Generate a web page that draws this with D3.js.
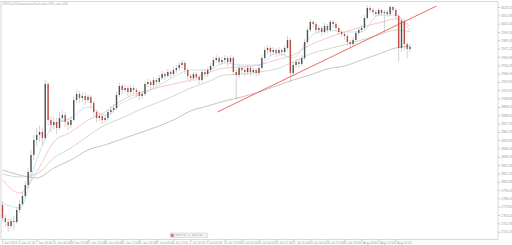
<!DOCTYPE html>
<html>
<head>
<meta charset="utf-8">
<script src="https://cdn.jsdelivr.net/npm/d3@7"></script>
<style>
  html, body { margin: 0; padding: 0; background: #fff; }
  svg { display: block; font-family: "DejaVu Sans", sans-serif; }
</style>
</head>
<body>
<svg width="512" height="245"></svg>
<script>
// chart title
const title = "[SPX500],H4  Standard and Poor's Index (SPX), cash (USD)";

// H4 candles, open = previous close
const firstOpen = 2775.8;
const closes = [
  2759.5, 2754.5, 2749.5, 2755.8, 2754.5, 2769.5, 2777, 2787, 2800.8, 2817,
  2838.3, 2857, 2863.3, 2867, 2859.5, 2927, 2882, 2875.8, 2879.5, 2872,
  2884.5, 2888.3, 2879.5, 2875.8, 2882, 2907, 2914.5, 2909.5, 2912, 2907,
  2910.8, 2903.3, 2892, 2884.5, 2887, 2882, 2884.5, 2892, 2894.5, 2897,
  2913.3, 2924.5, 2919.5, 2922, 2917, 2922, 2919.5, 2917, 2912, 2914.5,
  2927, 2929.5, 2925.8, 2932, 2929.5, 2934.5, 2939.5, 2937, 2942, 2939.5,
  2944.5, 2947, 2950.8, 2953.3, 2944.5, 2937, 2934.5, 2939.5, 2935.8, 2932,
  2942, 2939.5, 2944.5, 2949.5, 2957, 2959.5, 2954.5, 2957, 2959.5, 2954.5,
  2959.5, 2942, 2938.3, 2947, 2944.5, 2942, 2947, 2942, 2944.5, 2940.8,
  2947, 2959.5, 2969.5, 2972, 2967, 2969.5, 2965.8, 2969.5, 2967, 2972,
  2982, 2940.8, 2950.8, 2954.5, 2952, 2959.5, 2979.5, 2994.5, 3004.5, 3002,
  2994.5, 2997, 2992, 2999.5, 2994.5, 3004.5, 3002, 2997, 2992, 2989.5,
  2987, 2979.5, 2977, 2982, 2990.8, 2994.5, 2997, 3009.5, 3022, 3019.5,
  3017, 3014.5, 3019.5, 3015.8, 3017, 3014.5, 3023.3, 3019.5, 3012, 2972,
  3005.8, 2977, 2970.8, 2973.3
];
const highs = [
  2780.8, 2763.3, 2758.3, 2759.5, 2762, 2773.3, 2782, 2792, 2805.8, 2822,
  2844.5, 2863.3, 2872, 2874.5, 2872, 2932, 2929.5, 2887, 2885.8, 2884.5,
  2892, 2894.5, 2892, 2884.5, 2887, 2912, 2919.5, 2918.3, 2917, 2915.8,
  2914.5, 2913.3, 2905.8, 2894.5, 2890.8, 2889.5, 2888.3, 2895.8, 2899.5, 2902,
  2917, 2928.3, 2927, 2925.8, 2924.5, 2925.8, 2924.5, 2922, 2919.5, 2918.3,
  2930.8, 2933.3, 2932, 2935.8, 2934.5, 2938.3, 2943.3, 2942, 2945.8, 2944.5,
  2948.3, 2950.8, 2954.5, 2957, 2955.8, 2947, 2939.5, 2942, 2942, 2938.3,
  2944.5, 2945.8, 2948.3, 2953.3, 2960.8, 2963.3, 2962, 2960.8, 2963.3, 2962,
  2963.3, 2962, 2945.8, 2950.8, 2949.5, 2948.3, 2950.8, 2949.5, 2948.3, 2947,
  2950.8, 2963.3, 2973.3, 2975.8, 2974.5, 2973.3, 2972, 2973.3, 2972, 2975.8,
  2987, 2984.5, 2954.5, 2958.3, 2958.3, 2963.3, 2983.3, 2998.3, 3008.3, 3007,
  3004.5, 3000.8, 2999.5, 3003.3, 3002, 3007, 3007, 3004.5, 2999.5, 2994.5,
  2992, 2989.5, 2982, 2985.8, 2993.3, 2997, 3000.8, 3013.3, 3025.8, 3024.5,
  3022, 3019.5, 3022, 3020.8, 3019.5, 3019.5, 3025.8, 3024.5, 3022, 3014.5,
  3009.5, 3008.3, 2979.5, 2977
];
const lows = [
  2755.8, 2748.3, 2742, 2745.8, 2744.5, 2752, 2765.8, 2774.5, 2783.3, 2797,
  2813.3, 2832, 2849.5, 2854.5, 2850.8, 2857, 2874.5, 2867, 2869.5, 2864.5,
  2869.5, 2879.5, 2873.3, 2869.5, 2872, 2879.5, 2903.3, 2903.3, 2904.5, 2900.8,
  2903.3, 2897, 2887, 2879.5, 2880.8, 2877, 2878.3, 2880.8, 2888.3, 2890.8,
  2894.5, 2910.8, 2914.5, 2915.8, 2912, 2913.3, 2914.5, 2910.8, 2907, 2908.3,
  2912, 2923.3, 2920.8, 2922, 2924.5, 2927, 2932, 2932, 2934.5, 2934.5,
  2937, 2940.8, 2943.3, 2947, 2939.5, 2932, 2929.5, 2930.8, 2930.8, 2927,
  2929.5, 2934.5, 2935.8, 2942, 2947, 2953.3, 2950.8, 2950.8, 2953.3, 2949.5,
  2952, 2937, 2907, 2934.5, 2939.5, 2937, 2938.3, 2937, 2938.3, 2935.8,
  2937, 2944.5, 2957, 2964.5, 2962, 2963.3, 2960.8, 2962, 2962, 2963.3,
  2969.5, 2929.5, 2937, 2947, 2947, 2949.5, 2957, 2977, 2992, 2997,
  2990.8, 2990.8, 2987, 2989.5, 2990.8, 2992, 2997, 2993.3, 2988.3, 2985.8,
  2982, 2975.8, 2973.3, 2974.5, 2979.5, 2988.3, 2992, 2994.5, 3007, 3015.8,
  3013.3, 3010.8, 3012, 3012, 2992, 3010.8, 3012, 3015.8, 3008.3, 2954.5,
  2967, 2969.5, 2959.5, 2967
];

// moving averages, read every 6 bars
const maIndex = [0, 6, 12, 18, 24, 30, 36, 42, 48, 54, 60, 66, 72, 78, 84, 90, 96, 102, 108, 114, 120, 126, 132, 138, 143];
const maBlue = [2778.3, 2772, 2832, 2875.8, 2884.5, 2898.3, 2888.3, 2903.3, 2913.3, 2923.3, 2935.8, 2944.5, 2944.5, 2953.3, 2950.8, 2950.8, 2965.8, 2959.5, 2985.8, 2994.5, 2992, 2992, 3013.3, 3013.3, 2992];
const maPink = [2807, 2790.8, 2817, 2854.5, 2867, 2882, 2892, 2907, 2915.8, 2922, 2927, 2932, 2940.8, 2947, 2948.3, 2950.8, 2957, 2963.3, 2975.8, 2984.5, 2992, 2998.3, 3003.3, 3008.3, 2999.5];
const maGreen = [2814.5, 2810.8, 2814.5, 2834.5, 2847, 2862, 2875.8, 2884.5, 2894.5, 2903.3, 2912, 2922, 2929.5, 2938.3, 2939.5, 2942, 2945.8, 2954.5, 2964.5, 2970.8, 2975.8, 2982, 2988.3, 2994.5, 2992];
const maGrey = [2819.5, 2813.3, 2809.5, 2822, 2832, 2844.5, 2850.8, 2858.3, 2865.8, 2873.3, 2882, 2893.3, 2899.5, 2905.8, 2910.8, 2917, 2924.5, 2932, 2938.3, 2945.8, 2949.5, 2957, 2964.5, 2972, 2974.5];

// trend line: [bar index, price]
const trendLine = [[75.4, 2892], [152.3, 3024.5]];

// axis labels
const priceTicks = [3023.25, 3012.85, 3002.45, 2992.05, 2981.65, 2971.25, 2960.85, 2950.45, 2940.05, 2929.65,
  2919.25, 2908.85, 2898.45, 2888.05, 2877.65, 2867.25, 2856.85, 2846.45, 2836.05, 2825.65,
  2815.25, 2804.85, 2794.45, 2784.05, 2773.65, 2763.25, 2752.85, 2742.45];
const dateTicks = ['3 Jun 2019', '5 Jun 12:00', '7 Jun 20:00', '11 Jun 04:00', '13 Jun 12:00', '17 Jun 20:00',
  '19 Jun 04:00', '21 Jun 12:00', '25 Jun 20:00', '27 Jun 04:00', '1 Jul 12:00', '3 Jul 20:00',
  '8 Jul 04:00', '10 Jul 12:00', '12 Jul 20:00', '16 Jul 04:00', '18 Jul 12:00', '22 Jul 20:00',
  '24 Jul 04:00', '26 Jul 12:00', '30 Jul 20:00', '1 Aug 04:00', '2 Aug 12:00', '5 Aug 20:00'];

let svg = d3.select('svg');
let plot = {left: 1, right: 498, top: 1.5, bottom: 239.5};

let candles = closes.map((c, i) => ({
  i: i,
  o: i === 0 ? firstOpen : closes[i - 1],
  c: c, h: highs[i], l: lows[i]
}));

let x = d3.scaleLinear().domain([0, 143]).range([2.5, 410.05]);
let y = d3.scaleLinear().domain([2733.25, 3029.5]).range([239, 2]);

// frame
svg.append('rect')
  .attr('x', plot.left).attr('y', plot.top)
  .attr('width', plot.right - plot.left).attr('height', plot.bottom - plot.top)
  .attr('fill', '#fff').attr('stroke', '#d8d8d8').attr('stroke-width', 1);

let g = svg.append('g');

// moving averages
let maLine = d3.line()
  .x((d, k) => x(maIndex[k]))
  .y(d => y(d))
  .curve(d3.curveMonotoneX);

[[maGrey, '#ababab'], [maGreen, '#bccab4'], [maPink, '#f5b0b0'], [maBlue, '#b3d6f4']].forEach(([s, col]) => {
  g.append('path').datum(s)
    .attr('d', maLine)
    .attr('fill', 'none').attr('stroke', col).attr('stroke-width', 0.7);
});

// candles
let cg = g.selectAll('.candle').data(candles).enter().append('g').attr('class', 'candle');
cg.append('line')
  .attr('x1', d => x(d.i)).attr('x2', d => x(d.i))
  .attr('y1', d => y(d.h)).attr('y2', d => y(d.l))
  .attr('stroke', '#b4b4b4').attr('stroke-width', 0.6);
cg.append('rect')
  .attr('x', d => x(d.i) - 0.7)
  .attr('width', 1.4)
  .attr('y', d => y(Math.max(d.o, d.c)))
  .attr('height', d => Math.max(0.6, Math.abs(y(d.o) - y(d.c))))
  .attr('fill', d => d.c >= d.o ? '#4c564c' : '#c04a44');

// trend line
g.append('path').datum(trendLine)
  .attr('d', d3.line().x(d => x(d[0])).y(d => y(d[1])))
  .attr('stroke', '#f25656').attr('stroke-width', 0.9).attr('fill', 'none');

// price axis
let yAxis = svg.append('g')
  .attr('transform', `translate(${plot.right},0)`)
  .call(d3.axisRight(y).tickValues(priceTicks).tickSize(2).tickPadding(1).tickFormat(d3.format('.2f')));
yAxis.select('.domain').remove();
yAxis.selectAll('line').attr('stroke', '#c4c4c4');
yAxis.selectAll('text').attr('font-size', 3.4).attr('fill', '#999');

// time axis
let xAxis = svg.append('g')
  .attr('transform', `translate(0,${plot.bottom})`)
  .call(d3.axisBottom(x).tickValues(d3.range(0, 144, 6)).tickSize(1.5).tickPadding(0.5)
    .tickFormat((d, k) => dateTicks[k]));
xAxis.select('.domain').remove();
xAxis.selectAll('line').attr('stroke', '#c4c4c4');
xAxis.selectAll('text').attr('font-size', 3.2).attr('fill', '#999')
  .attr('text-anchor', 'start').attr('dx', -1.5);

// title
svg.append('text')
  .attr('x', 2.5).attr('y', 5.2)
  .attr('font-size', 3.3).attr('fill', '#999')
  .attr('textLength', 66).attr('lengthAdjust', 'spacingAndGlyphs')
  .text(title);

// small trade buttons at the bottom
let btn = svg.append('g').attr('transform', 'translate(170,233)');
btn.append('rect').attr('width', 18).attr('height', 4.5).attr('fill', '#f4f4f4').attr('stroke', '#c8c8c8').attr('stroke-width', 0.5);
btn.append('rect').attr('x', 0.8).attr('y', 0.8).attr('width', 3).attr('height', 3).attr('fill', '#e07070');
btn.append('text').attr('x', 5).attr('y', 3.4).attr('font-size', 2.6).attr('fill', '#999').text('2971.70');
btn.append('rect').attr('x', 19.5).attr('width', 18).attr('height', 4.5).attr('fill', '#f4f4f4').attr('stroke', '#c8c8c8').attr('stroke-width', 0.5);
btn.append('text').attr('x', 21.5).attr('y', 3.4).attr('font-size', 2.6).attr('fill', '#999').text('2972.20');
</script>
</body>
</html>
